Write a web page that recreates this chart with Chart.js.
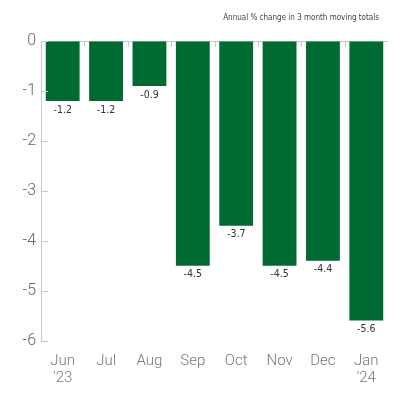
<!DOCTYPE html>
<html>
<head>
<meta charset="utf-8">
<script src="https://cdn.jsdelivr.net/npm/chart.js@4"></script>
<style>
html,body{margin:0;padding:0;background:#fff;}
#wrap{width:400px;height:400px;position:relative;}
</style>
</head>
<body>
<div id="wrap"><canvas id="c"></canvas></div>
<script>
const categories = [['Jun',"'23"],['Jul'],['Aug'],['Sep'],['Oct'],['Nov'],['Dec'],['Jan',"'24"]];
const values = [-1.2, -1.2, -0.9, -4.5, -3.7, -4.5, -4.4, -5.6];
const yTicks = [0, -1, -2, -3, -4, -5, -6];
const titleText = 'Annual % change in 3 month moving totals';

const condensed = '"DejaVu Sans Condensed","Liberation Sans Narrow","Roboto Condensed",sans-serif';
const light = 'Roboto, "Liberation Sans", sans-serif';

const decor = {
  id: 'decor',
  afterDraw(chart) {
    const ctx = chart.ctx;
    const x = chart.scales.x, y = chart.scales.y;
    const area = chart.chartArea;
    ctx.save();
    ctx.strokeStyle = '#c8c8c8';
    ctx.lineWidth = 1;
    yTicks.forEach(v => {
      const py = Math.round(y.getPixelForValue(v)) + 0.5;
      ctx.beginPath();
      ctx.moveTo(area.left, py);
      ctx.lineTo(area.left + 7, py);
      ctx.stroke();
    });
    const zy = y.getPixelForValue(0);
    for (let i = 1; i < categories.length; i++) {
      const px = Math.round((x.getPixelForValue(i - 1) + x.getPixelForValue(i)) / 2) + 0.5;
      ctx.beginPath();
      ctx.moveTo(px, zy);
      ctx.lineTo(px, zy + 6);
      ctx.stroke();
    }
    ctx.fillStyle = '#333';
    ctx.font = '500 10.5px ' + condensed;
    ctx.textAlign = 'center';
    ctx.textBaseline = 'middle';
    const meta = chart.getDatasetMeta(0);
    meta.data.forEach((bar, i) => {
      ctx.fillText(values[i].toFixed(1), bar.x, bar.y + 9);
    });
    ctx.fillStyle = '#444';
    ctx.font = '8px ' + condensed;
    ctx.textAlign = 'right';
    ctx.textBaseline = 'middle';
    ctx.fillText(titleText, 379, 18);
    ctx.restore();
  }
};

new Chart(document.getElementById('c'), {
  type: 'bar',
  data: {
    labels: categories,
    datasets: [{
      data: values,
      backgroundColor: '#006a33',
      borderWidth: 0,
      barPercentage: 0.78,
      categoryPercentage: 1.0
    }]
  },
  options: {
    responsive: true,
    maintainAspectRatio: false,
    animation: false,
    devicePixelRatio: 1,
    layout: { padding: { top: 41, right: 12, bottom: 9, left: 0 } },
    plugins: { legend: { display: false }, tooltip: { enabled: false }, title: { display: false } },
    scales: {
      x: {
        grid: { display: false },
        border: { display: false },
        ticks: {
          color: '#777',
          font: { family: light, size: 15, weight: 300, lineHeight: 1.15 },
          padding: 4,
          maxRotation: 0,
          autoSkip: false
        }
      },
      y: {
        min: -6,
        max: 0,
        afterFit(scale) { scale.width = 41; },
        afterBuildTicks(scale) { scale.ticks = yTicks.map(v => ({ value: v })); },
        grid: {
          drawTicks: false,
          color: ctx => (ctx.tick && ctx.tick.value === 0) ? '#c8c8c8' : 'rgba(0,0,0,0)'
        },
        border: { display: true, color: '#c8c8c8' },
        ticks: {
          color: '#666',
          font: { family: light, size: 16, weight: 300 },
          padding: 5
        }
      }
    }
  },
  plugins: [decor]
});
</script>
</body>
</html>
